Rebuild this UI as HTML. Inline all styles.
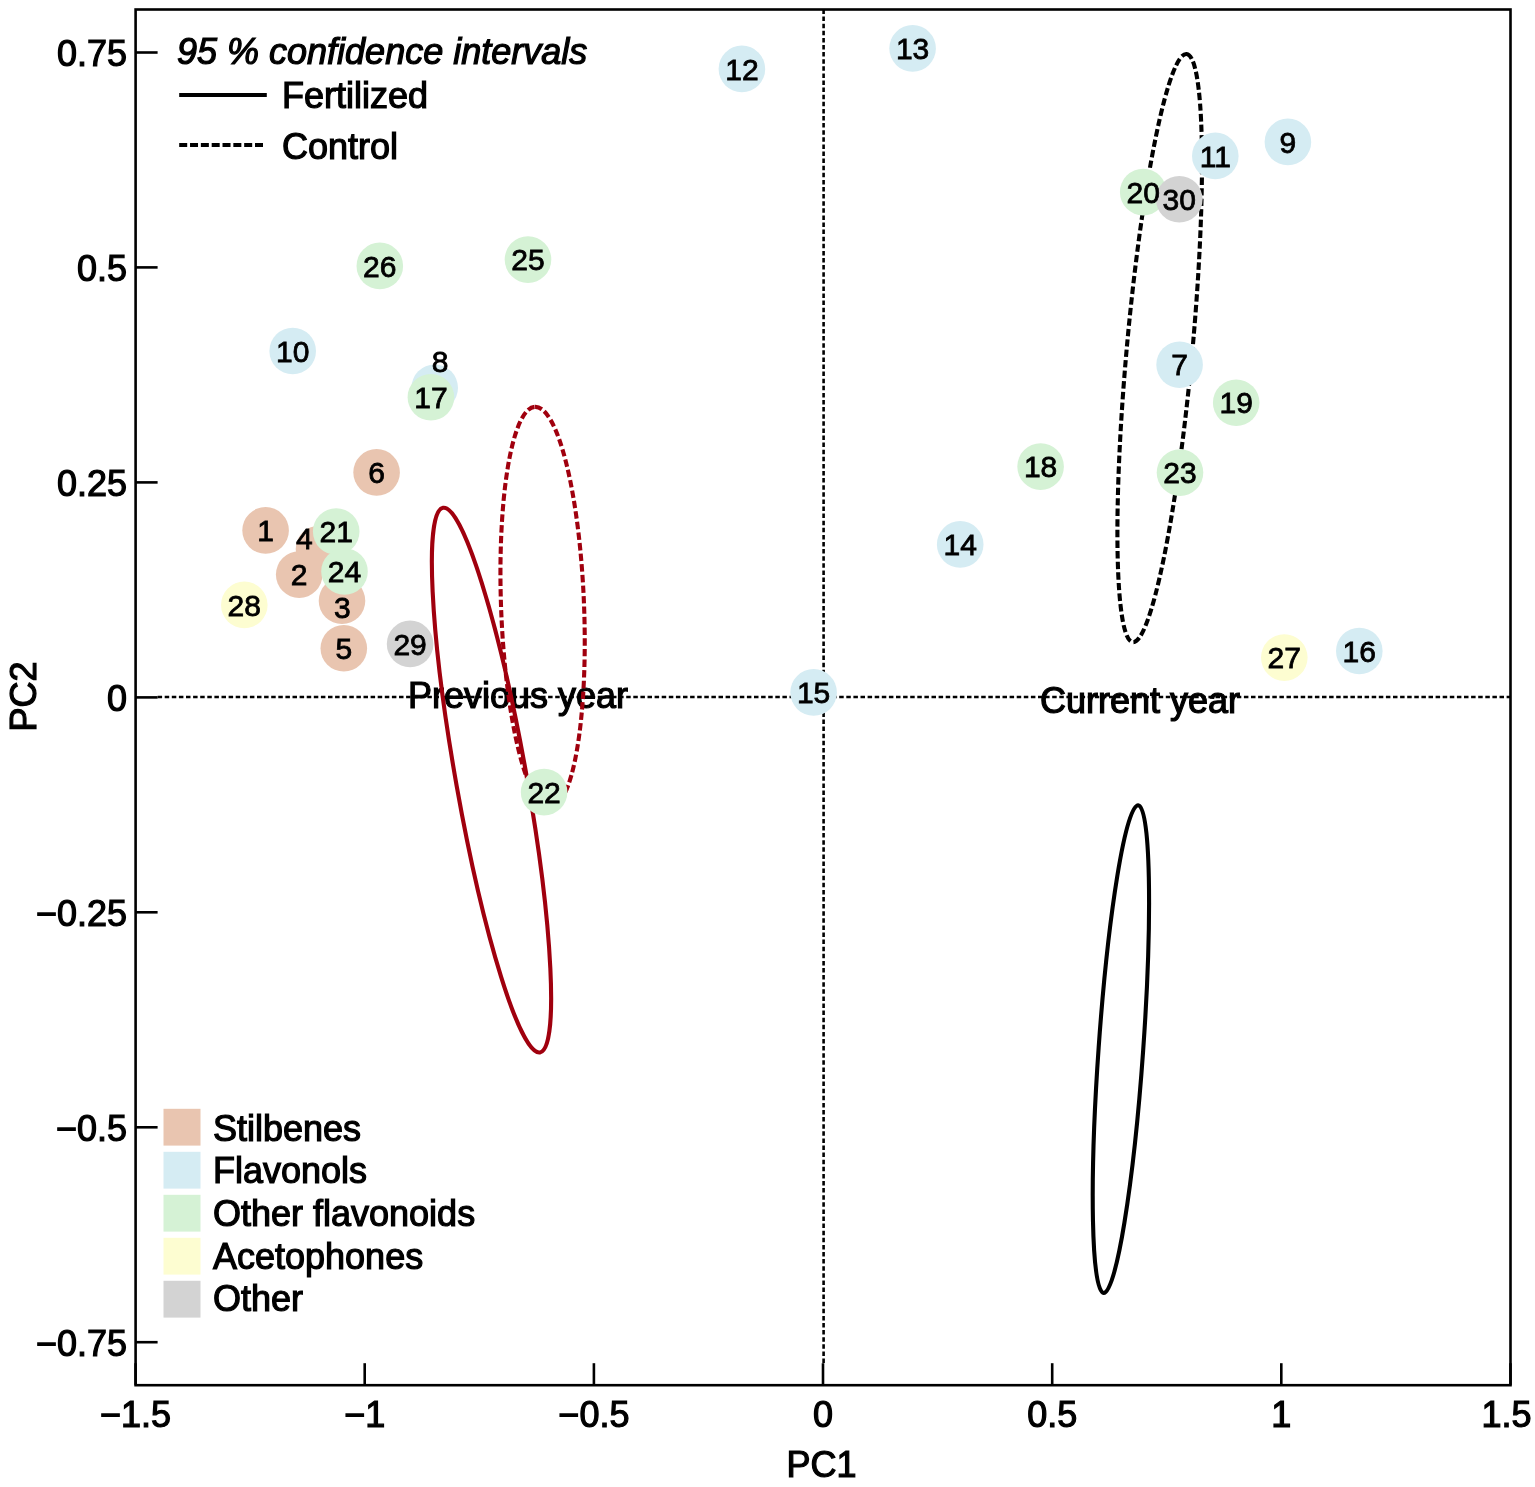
<!DOCTYPE html>
<html><head><meta charset="utf-8"><style>
html,body{margin:0;padding:0;background:#fff;}
svg{display:block;}
text{font-family:"Liberation Sans",Arial,sans-serif;fill:#000;stroke:#000;stroke-width:1.2px;}
text.lb{stroke-width:0.8px;}
</style></head><body>
<svg width="1535" height="1487" viewBox="0 0 1535 1487">
<rect x="0" y="0" width="1535" height="1487" fill="#fff"/>
<line x1="157.6" y1="697.0" x2="1510.5" y2="697.0" stroke="#000" stroke-width="2.6" stroke-dasharray="4.5 2.6"/>
<line x1="823.6" y1="9.5" x2="823.6" y2="1363.2" stroke="#000" stroke-width="2.6" stroke-dasharray="4.5 2.6"/>
<text x="408" y="708" font-size="36">Previous year</text>
<text x="1040" y="712.7" font-size="36">Current year</text>
<ellipse cx="491.5" cy="780.1" rx="276.6" ry="35.3" transform="rotate(-100.09 491.5 780.1)" fill="none" stroke="#A0000E" stroke-width="4.1"/>
<ellipse cx="542.6" cy="607.4" rx="200.7" ry="41.5" transform="rotate(-92.16 542.6 607.4)" fill="none" stroke="#A0000E" stroke-width="4.1" stroke-dasharray="7.4 3.2"/>
<ellipse cx="1120.9" cy="1049.1" rx="244.5" ry="22.3" transform="rotate(-85.95 1120.9 1049.1)" fill="none" stroke="#000" stroke-width="4.1"/>
<ellipse cx="1159.7" cy="348.1" rx="295.3" ry="32.8" transform="rotate(-84.78 1159.7 348.1)" fill="none" stroke="#000" stroke-width="4.1" stroke-dasharray="7.4 3.2"/>
<circle cx="265.6" cy="530.4" r="23.3" fill="#E9C5B0"/>
<circle cx="299.2" cy="574.6" r="23.3" fill="#E9C5B0"/>
<circle cx="342.0" cy="600.8" r="23.3" fill="#E9C5B0"/>
<circle cx="319.0" cy="549.0" r="23.3" fill="#E9C5B0"/>
<circle cx="343.8" cy="648.3" r="23.3" fill="#E9C5B0"/>
<circle cx="376.6" cy="472.4" r="23.3" fill="#E9C5B0"/>
<circle cx="1179.6" cy="364.7" r="23.3" fill="#D5ECF3"/>
<circle cx="434.7" cy="387.8" r="23.3" fill="#D5ECF3"/>
<circle cx="1287.9" cy="141.9" r="23.3" fill="#D5ECF3"/>
<circle cx="292.7" cy="351.0" r="23.3" fill="#D5ECF3"/>
<circle cx="1215.3" cy="155.9" r="23.3" fill="#D5ECF3"/>
<circle cx="741.9" cy="68.9" r="23.3" fill="#D5ECF3"/>
<circle cx="912.6" cy="48.4" r="23.3" fill="#D5ECF3"/>
<circle cx="960.2" cy="544.4" r="23.3" fill="#D5ECF3"/>
<circle cx="813.6" cy="692.4" r="23.3" fill="#D5ECF3"/>
<circle cx="1359.3" cy="651.0" r="23.3" fill="#D5ECF3"/>
<circle cx="430.9" cy="397.2" r="23.3" fill="#D5F2D5"/>
<circle cx="1040.6" cy="466.6" r="23.3" fill="#D5F2D5"/>
<circle cx="1236.2" cy="402.7" r="23.3" fill="#D5F2D5"/>
<circle cx="1143.2" cy="192.1" r="23.3" fill="#D5F2D5"/>
<circle cx="336.2" cy="531.5" r="23.3" fill="#D5F2D5"/>
<circle cx="544.1" cy="792.1" r="23.3" fill="#D5F2D5"/>
<circle cx="1180.0" cy="472.6" r="23.3" fill="#D5F2D5"/>
<circle cx="344.5" cy="571.5" r="23.3" fill="#D5F2D5"/>
<circle cx="528.0" cy="259.6" r="23.3" fill="#D5F2D5"/>
<circle cx="379.8" cy="265.9" r="23.3" fill="#D5F2D5"/>
<circle cx="1284.3" cy="657.6" r="23.3" fill="#FDFDD1"/>
<circle cx="244.3" cy="604.9" r="23.3" fill="#FDFDD1"/>
<circle cx="410.1" cy="643.9" r="23.3" fill="#D3D3D3"/>
<circle cx="1179.3" cy="199.3" r="23.3" fill="#D3D3D3"/>
<text class="lb" x="265.6" y="541.1" font-size="30" text-anchor="middle">1</text>
<text class="lb" x="299.2" y="585.3" font-size="30" text-anchor="middle">2</text>
<text class="lb" x="342.4" y="617.8" font-size="30" text-anchor="middle">3</text>
<text class="lb" x="304.3" y="548.9" font-size="30" text-anchor="middle">4</text>
<text class="lb" x="343.8" y="659.0" font-size="30" text-anchor="middle">5</text>
<text class="lb" x="376.6" y="483.1" font-size="30" text-anchor="middle">6</text>
<text class="lb" x="1179.6" y="375.4" font-size="30" text-anchor="middle">7</text>
<text class="lb" x="440.1" y="372.4" font-size="30" text-anchor="middle">8</text>
<text class="lb" x="1287.9" y="152.6" font-size="30" text-anchor="middle">9</text>
<text class="lb" x="292.7" y="361.7" font-size="30" text-anchor="middle">10</text>
<text class="lb" x="1215.3" y="166.6" font-size="30" text-anchor="middle">11</text>
<text class="lb" x="741.9" y="79.6" font-size="30" text-anchor="middle">12</text>
<text class="lb" x="912.6" y="59.1" font-size="30" text-anchor="middle">13</text>
<text class="lb" x="960.2" y="555.1" font-size="30" text-anchor="middle">14</text>
<text class="lb" x="813.6" y="703.1" font-size="30" text-anchor="middle">15</text>
<text class="lb" x="1359.3" y="661.7" font-size="30" text-anchor="middle">16</text>
<text class="lb" x="430.9" y="407.9" font-size="30" text-anchor="middle">17</text>
<text class="lb" x="1040.6" y="477.3" font-size="30" text-anchor="middle">18</text>
<text class="lb" x="1236.2" y="413.4" font-size="30" text-anchor="middle">19</text>
<text class="lb" x="1143.2" y="202.8" font-size="30" text-anchor="middle">20</text>
<text class="lb" x="336.2" y="542.2" font-size="30" text-anchor="middle">21</text>
<text class="lb" x="544.1" y="802.8" font-size="30" text-anchor="middle">22</text>
<text class="lb" x="1180.0" y="483.3" font-size="30" text-anchor="middle">23</text>
<text class="lb" x="344.5" y="582.2" font-size="30" text-anchor="middle">24</text>
<text class="lb" x="528.0" y="270.3" font-size="30" text-anchor="middle">25</text>
<text class="lb" x="379.8" y="276.6" font-size="30" text-anchor="middle">26</text>
<text class="lb" x="1284.3" y="668.3" font-size="30" text-anchor="middle">27</text>
<text class="lb" x="244.3" y="615.6" font-size="30" text-anchor="middle">28</text>
<text class="lb" x="410.1" y="654.6" font-size="30" text-anchor="middle">29</text>
<text class="lb" x="1179.3" y="210.0" font-size="30" text-anchor="middle">30</text>
<rect x="135.6" y="9.5" width="1374.9" height="1375.7" fill="none" stroke="#000" stroke-width="2.6"/>
<line x1="135.6" y1="1342.2" x2="157.6" y2="1342.2" stroke="#000" stroke-width="2.6"/>
<text x="127" y="1355.7" font-size="36" text-anchor="end">−0.75</text>
<line x1="135.6" y1="1127.3" x2="157.6" y2="1127.3" stroke="#000" stroke-width="2.6"/>
<text x="127" y="1140.8" font-size="36" text-anchor="end">−0.5</text>
<line x1="135.6" y1="912.3" x2="157.6" y2="912.3" stroke="#000" stroke-width="2.6"/>
<text x="127" y="925.8" font-size="36" text-anchor="end">−0.25</text>
<line x1="135.6" y1="697.4" x2="157.6" y2="697.4" stroke="#000" stroke-width="2.6"/>
<text x="127" y="710.9" font-size="36" text-anchor="end">0</text>
<line x1="135.6" y1="482.4" x2="157.6" y2="482.4" stroke="#000" stroke-width="2.6"/>
<text x="127" y="495.9" font-size="36" text-anchor="end">0.25</text>
<line x1="135.6" y1="267.4" x2="157.6" y2="267.4" stroke="#000" stroke-width="2.6"/>
<text x="127" y="280.9" font-size="36" text-anchor="end">0.5</text>
<line x1="135.6" y1="52.5" x2="157.6" y2="52.5" stroke="#000" stroke-width="2.6"/>
<text x="127" y="66.0" font-size="36" text-anchor="end">0.75</text>
<line x1="135.6" y1="1385.2" x2="135.6" y2="1363.2" stroke="#000" stroke-width="2.6"/>
<text x="135.6" y="1426.5" font-size="36" text-anchor="middle">−1.5</text>
<line x1="364.7" y1="1385.2" x2="364.7" y2="1363.2" stroke="#000" stroke-width="2.6"/>
<text x="364.7" y="1426.5" font-size="36" text-anchor="middle">−1</text>
<line x1="593.9" y1="1385.2" x2="593.9" y2="1363.2" stroke="#000" stroke-width="2.6"/>
<text x="593.9" y="1426.5" font-size="36" text-anchor="middle">−0.5</text>
<line x1="823.0" y1="1385.2" x2="823.0" y2="1363.2" stroke="#000" stroke-width="2.6"/>
<text x="823.0" y="1426.5" font-size="36" text-anchor="middle">0</text>
<line x1="1052.2" y1="1385.2" x2="1052.2" y2="1363.2" stroke="#000" stroke-width="2.6"/>
<text x="1052.2" y="1426.5" font-size="36" text-anchor="middle">0.5</text>
<line x1="1281.3" y1="1385.2" x2="1281.3" y2="1363.2" stroke="#000" stroke-width="2.6"/>
<text x="1281.3" y="1426.5" font-size="36" text-anchor="middle">1</text>
<line x1="1510.5" y1="1385.2" x2="1510.5" y2="1363.2" stroke="#000" stroke-width="2.6"/>
<text x="1506.5" y="1426.5" font-size="36" text-anchor="middle">1.5</text>
<text x="821.4" y="1476.7" font-size="36" text-anchor="middle">PC1</text>
<text transform="translate(36 696.5) rotate(-90)" font-size="36" text-anchor="middle">PC2</text>
<text x="177" y="63.8" font-size="36" font-style="italic">95 % confidence intervals</text>
<line x1="179.2" y1="95.1" x2="266.8" y2="95.1" stroke="#000" stroke-width="4"/>
<text x="282" y="108.3" font-size="36">Fertilized</text>
<line x1="179.2" y1="144.9" x2="263" y2="144.9" stroke="#000" stroke-width="4" stroke-dasharray="8 2.83"/>
<text x="282" y="158.5" font-size="36">Control</text>
<rect x="163.5" y="1108.8" width="37" height="36.8" fill="#E9C5B0"/>
<text x="213" y="1140.5" font-size="36">Stilbenes</text>
<rect x="163.5" y="1151.8" width="37" height="36.8" fill="#D5ECF3"/>
<text x="213" y="1183.2" font-size="36">Flavonols</text>
<rect x="163.5" y="1194.8" width="37" height="36.8" fill="#D5F2D5"/>
<text x="213" y="1225.9" font-size="36">Other flavonoids</text>
<rect x="163.5" y="1237.8" width="37" height="36.8" fill="#FDFDD1"/>
<text x="213" y="1268.6" font-size="36">Acetophones</text>
<rect x="163.5" y="1280.8" width="37" height="36.8" fill="#D3D3D3"/>
<text x="213" y="1311.3" font-size="36">Other</text>
</svg></body></html>
